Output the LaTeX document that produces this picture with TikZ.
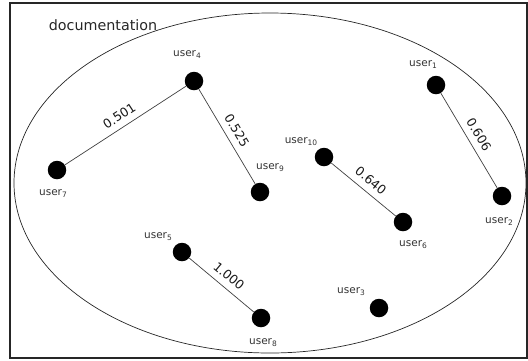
\documentclass[tikz,border=0pt]{standalone}
\usepackage{fontspec}
\setmainfont{DejaVu Sans}
\newcommand{\usr}[1]{user\raisebox{-0.35ex}{\fontsize{7.5}{8}\selectfont #1}}
\begin{document}
\begin{tikzpicture}[x=1pt,y=-1pt,
  dot/.style={circle,fill=black,inner sep=0pt,minimum size=18.5pt},
  ulab/.style={font=\fontsize{10.5}{12}\selectfont,text=black!80,inner sep=0pt},
  elab/.style={font=\fontsize{12.5}{14}\selectfont,text=black!90,inner sep=0pt,sloped,midway,above=6.5pt},
  edge/.style={draw=black!75,line width=0.7pt}]
\useasboundingbox (0,0) rectangle (528,360);
\draw[black!85,line width=1.3pt] (10,3) rectangle (527,358);
\draw[black!85,line width=0.7pt] (270,183) ellipse [x radius=256, y radius=170];
\node[font=\fontsize{14.3}{17}\selectfont,text=black!85,inner sep=0pt] (doc) at (103,25) {documentation};
% dots
\node[dot] (u1) at (436,85) {};
\node[dot] (u2) at (502,196) {};
\node[dot] (u3) at (379,308) {};
\node[dot] (u4) at (194,81) {};
\node[dot] (u5) at (182,252) {};
\node[dot] (u6) at (403,222) {};
\node[dot] (u7) at (57,170) {};
\node[dot] (u8) at (261,318) {};
\node[dot] (u9) at (260,192) {};
\node[dot] (u10) at (324,157) {};
% labels
\node[ulab] (l1) at (423,65) {\usr{1}};
\node[ulab] (l2) at (499,222) {\usr{2}};
\node[ulab] (l3) at (351,292) {\usr{3}};
\node[ulab] (l4) at (187,55) {\usr{4}};
\node[ulab] (l5) at (158,237) {\usr{5}};
\node[ulab] (l6) at (413,245) {\usr{6}};
\node[ulab] (l7) at (53,194) {\usr{7}};
\node[ulab] (l8) at (263,343) {\usr{8}};
\node[ulab] (l9) at (270,168) {\usr{9}};
\node[ulab] (l10) at (301,142) {\usr{10}};
% edges
\path[edge] (u7) -- node[elab] {0.501} (u4);
\path[edge] (u4) -- node[elab] {0.525} (u9);
\path[edge] (u1) -- node[elab] {0.606} (u2);
\path[edge] (u10) -- node[elab] {0.640} (u6);
\path[edge] (u5) -- node[elab] {1.000} (u8);
\end{tikzpicture}
\end{document}
